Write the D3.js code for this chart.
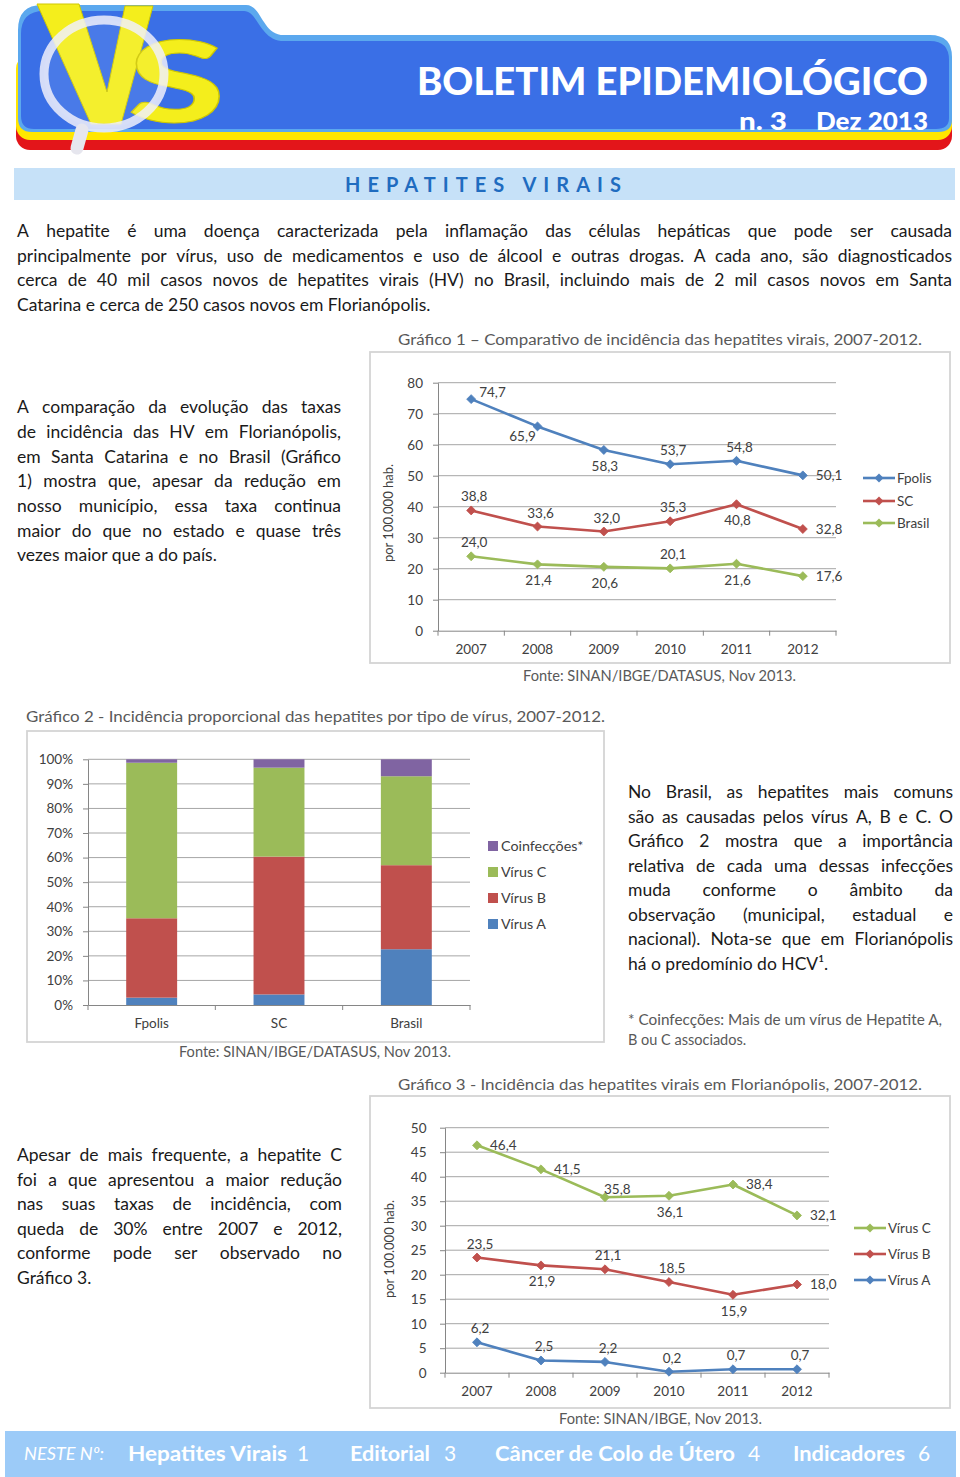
<!DOCTYPE html>
<html><head><meta charset="utf-8">
<script src="https://cdn.jsdelivr.net/npm/d3@7"></script>
<style>html,body{margin:0;padding:0;background:#fff;}svg{display:block;}</style>
</head><body>
<svg id="page" width="960" height="1477"></svg>
<script>
// ---------------- DATA ----------------
const years = ["2007","2008","2009","2010","2011","2012"];
// Gráfico 1
const g1Fpolis = [74.7, 65.9, 58.3, 53.7, 54.8, 50.1];
const g1SC     = [38.8, 33.6, 32.0, 35.3, 40.8, 32.8];
const g1Brasil = [24.0, 21.4, 20.6, 20.1, 21.6, 17.6];
const g1Ticks  = [0,10,20,30,40,50,60,70,80];
const g1Names  = ["Fpolis","SC","Brasil"];
// Gráfico 2 (%)
const g2Categories = ["Fpolis","SC","Brasil"];
const g2VirusA = [3.0, 4.3, 22.7];
const g2VirusB = [32.3, 56.1, 34.2];
const g2VirusC = [63.3, 36.2, 36.2];
const g2Coinf  = [1.4, 3.4, 6.9];
const g2Keys   = ["Vírus A","Vírus B","Vírus C","Coinfecções*"];
const g2Ticks  = [0,10,20,30,40,50,60,70,80,90,100];
// Gráfico 3
const g3VirusC = [46.4, 41.5, 35.8, 36.1, 38.4, 32.1];
const g3VirusB = [23.5, 21.9, 21.1, 18.5, 15.9, 18.0];
const g3VirusA = [6.2, 2.5, 2.2, 0.2, 0.7, 0.7];
const g3Ticks  = [0,5,10,15,20,25,30,35,40,45,50];
const g3Names  = ["Vírus C","Vírus B","Vírus A"];

// label placement codes (style)
const g1FpolisLab = ["ar","bl","b","a","a","r"];
const g1SCLab     = ["a","a","a","a","b","r"];
const g1BrasilLab = ["a","b","b","a","b","r"];
const g3CLab = ["r","r","au","b","r","r"];
const g3BLab = ["a","b","a","a","b","r"];
const g3ALab = ["a","a","a","a","a","a"];

// ---------------- STYLE ----------------
const FONT = "Lato, 'Open Sans', 'DejaVu Sans', sans-serif";
const BLUE = "#4f81bd", RED = "#c0504d", GREEN = "#9bbb59", PURPLE = "#8064a2";
const AXIS = "#868686", GRID = "#a6a6a6", TXT = "#404040";

const svg = d3.select("#page").attr("font-family", FONT);

function measure(str, size, weight, style) {
  const t = svg.append("text").attr("font-size", size)
    .attr("font-weight", weight || "normal").attr("font-style", style || "normal").text(str);
  const w = t.node().getComputedTextLength(); t.remove(); return w;
}
function fitText(sel, w) { return sel.attr("textLength", w).attr("lengthAdjust", "spacingAndGlyphs"); }

function paragraph(lines, x0, x1, baselines, size, color, lastJustify) {
  const W = x1 - x0;
  const natural = lines.slice(0, lastJustify ? lines.length : -1).map(l => measure(l, size));
  const maxN = d3.max(natural) || 0;
  const fs = maxN > W * 0.985 ? size * W * 0.985 / maxN : size;
  const g = svg.append("g").attr("font-size", fs).attr("fill", color);
  lines.forEach((line, i) => {
    const t = g.append("text").attr("y", baselines[i]);
    const last = i === lines.length - 1 && !lastJustify;
    if (last) { t.attr("x", x0).text(line); return; }
    const words = line.split(" ");
    const ws = words.map(w => measure(w, fs));
    const gap = (W - d3.sum(ws)) / (words.length - 1);
    let cx = x0;
    words.forEach((w, k) => { t.append("tspan").attr("x", cx).text(w); cx += ws[k] + gap; });
  });
}

// ---------------- HEADER ----------------
const hdr = svg.append("g");
hdr.append("rect").attr("x", 16).attr("y", 60).attr("width", 936).attr("height", 90).attr("rx", 14).attr("fill", "#e3151a");
hdr.append("rect").attr("x", 16).attr("y", 55).attr("width", 936).attr("height", 85).attr("rx", 14).attr("fill", "#ffe600");
hdr.append("path").attr("fill", "#5ba8ee")
  .attr("d", "M18,30 Q18,5 42,5 L246,5 C262,5 262,35 284,35 L930,35 Q952,35 952,57 L952,120 Q952,132 938,132 L32,132 Q18,132 18,118 Z");
hdr.append("path").attr("fill", "#3a6fe6")
  .attr("d", "M21,34 Q21,11 44,11 L244,11 C258,11 260,41 284,41 L930,41 Q949,41 949,60 L949,118 Q949,129 936,129 L34,129 Q21,129 21,116 Z");
// logo
hdr.append("polygon").attr("points", "37,4 79,4 107,92 125,6 153,6 121,124 91,124")
  .attr("fill", "#f4ee1c").attr("stroke", "#cfc700").attr("stroke-width", 1);
fitText(hdr.append("text").attr("x", 128).attr("y", 122).attr("font-size", 112).attr("font-weight", 900)
  .attr("fill", "#f4ee1c").attr("stroke", "#cfc700").attr("stroke-width", 1).text("S"), 97);
hdr.append("ellipse").attr("cx", 104).attr("cy", 74).attr("rx", 60).attr("ry", 54)
  .attr("fill", "rgba(255,255,255,0.08)").attr("stroke", "rgba(240,240,250,0.85)").attr("stroke-width", 9);
hdr.append("line").attr("x1", 82).attr("y1", 130).attr("x2", 77).attr("y2", 148)
  .attr("stroke", "#e6e6ee").attr("stroke-width", 13).attr("stroke-linecap", "round");
fitText(hdr.append("text").attr("x", 417).attr("y", 95).attr("font-size", 38).attr("font-weight", 900)
  .attr("fill", "#fff").text("BOLETIM EPIDEMIOLÓGICO"), 511);
fitText(hdr.append("text").attr("x", 739).attr("y", 130).attr("font-size", 25).attr("font-weight", 900)
  .attr("fill", "#fff").text("n. 3"), 48);
fitText(hdr.append("text").attr("x", 816).attr("y", 130).attr("font-size", 25).attr("font-weight", 900)
  .attr("fill", "#fff").text("Dez 2013"), 112);

// section title
svg.append("rect").attr("x", 14).attr("y", 168).attr("width", 941).attr("height", 32).attr("fill", "#c6e1f8");
svg.append("text").attr("x", 345).attr("y", 192).attr("font-size", 20).attr("font-weight", 700)
  .attr("fill", "#1f6cc0").attr("textLength", 276).attr("lengthAdjust", "spacing").text("HEPATITES  VIRAIS");

// ---------------- TEXT ----------------
const PCOL = "#1a1a1a";
paragraph([
  "A hepatite é uma doença caracterizada pela inflamação das células hepáticas que pode ser causada",
  "principalmente por vírus, uso de medicamentos e uso de álcool e outras drogas. A cada ano, são diagnosticados",
  "cerca de 40 mil casos novos de hepatites virais (HV) no Brasil, incluindo mais de 2 mil casos novos em Santa",
  "Catarina e cerca de 250 casos novos em Florianópolis."
], 17, 952, [237, 262, 286, 311], 17.5, PCOL);

paragraph([
  "A comparação da evolução das taxas",
  "de incidência das HV em Florianópolis,",
  "em Santa Catarina e no Brasil (Gráfico",
  "1) mostra que, apesar da redução em",
  "nosso município, essa taxa continua",
  "maior do que no estado e quase três",
  "vezes maior que a do país."
], 17, 341, [413, 438, 463, 487, 512, 537, 561], 17.5, PCOL);

paragraph([
  "No Brasil, as hepatites mais comuns",
  "são as causadas pelos vírus A, B e C. O",
  "Gráfico 2 mostra que a importância",
  "relativa de cada uma dessas infecções",
  "muda conforme o âmbito da",
  "observação (municipal, estadual e",
  "nacional). Nota-se que em Florianópolis",
  "há o predomínio do HCV¹."
], 628, 953, [798, 823, 847, 872, 896, 921, 945, 970], 17.5, PCOL);

paragraph([
  "Apesar de mais frequente, a hepatite C",
  "foi a que apresentou a maior redução",
  "nas suas taxas de incidência, com",
  "queda de 30% entre 2007 e 2012,",
  "conforme pode ser observado no",
  "Gráfico 3."
], 17, 342, [1161, 1186, 1210, 1235, 1259, 1284], 17.5, PCOL);

const CAP = "#595959";
fitText(svg.append("text").attr("x", 398).attr("y", 345).attr("font-size", 15.5).attr("fill", CAP)
  .text("Gráfico 1 – Comparativo de incidência das hepatites virais, 2007-2012."), 524);
fitText(svg.append("text").attr("x", 26).attr("y", 722).attr("font-size", 15.5).attr("fill", CAP)
  .text("Gráfico 2 - Incidência proporcional das hepatites por tipo de vírus, 2007-2012."), 579);
fitText(svg.append("text").attr("x", 398).attr("y", 1090).attr("font-size", 15.5).attr("fill", CAP)
  .text("Gráfico 3 - Incidência das hepatites virais em Florianópolis, 2007-2012."), 524);
fitText(svg.append("text").attr("x", 523).attr("y", 681).attr("font-size", 14.5).attr("fill", CAP)
  .text("Fonte: SINAN/IBGE/DATASUS, Nov 2013."), 273);
fitText(svg.append("text").attr("x", 179).attr("y", 1057).attr("font-size", 14.5).attr("fill", CAP)
  .text("Fonte: SINAN/IBGE/DATASUS, Nov 2013."), 272);
fitText(svg.append("text").attr("x", 559).attr("y", 1424).attr("font-size", 14.5).attr("fill", CAP)
  .text("Fonte: SINAN/IBGE, Nov 2013."), 203);
fitText(svg.append("text").attr("x", 628).attr("y", 1025).attr("font-size", 14.5).attr("fill", CAP)
  .text("* Coinfecções: Mais de um vírus de Hepatite A,"), 314);
svg.append("text").attr("x", 628).attr("y", 1045).attr("font-size", 14.5).attr("fill", CAP)
  .text("B ou C associados.");

// ---------------- LINE CHART ----------------
const LABEL_OFF = {
  r:  {anchor: "start",  dx: 13, dy: 4.5},
  ar: {anchor: "start",  dx: 8,  dy: -2},
  au: {anchor: "start",  dx: -1, dy: -3},
  a:  {anchor: "middle", dx: 3,  dy: -9},
  b:  {anchor: "middle", dx: 1,  dy: 21},
  bl: {anchor: "middle", dx: -15, dy: 15}
};

function lineChart(o) {
  const g = svg.append("g");
  g.append("rect").attr("x", o.box[0]).attr("y", o.box[1]).attr("width", o.box[2]).attr("height", o.box[3])
    .attr("fill", "#fff").attr("stroke", "#d4d4d4").attr("stroke-width", 1.8);
  const x = d3.scaleBand().domain(years).range([o.x0, o.x1]);
  const y = d3.scaleLinear().domain([o.ticks[0], o.ticks[o.ticks.length - 1]]).range([o.y0, o.y1]);
  const cx = d => x(d) + x.bandwidth() / 2;

  g.selectAll(".grid").data(o.ticks.slice(1)).join("line")
    .attr("x1", o.x0).attr("x2", o.x1).attr("y1", d => y(d)).attr("y2", d => y(d))
    .attr("stroke", GRID).attr("stroke-width", 1);

  const ya = g.append("g").attr("transform", `translate(${o.x0},0)`)
    .call(d3.axisLeft(y).tickValues(o.ticks).tickSize(5).tickSizeOuter(0).tickPadding(o.yPad).tickFormat(d => d));
  const xa = g.append("g").attr("transform", `translate(0,${o.y0})`)
    .call(d3.axisBottom(x).tickSize(0).tickSizeOuter(0).tickPadding(o.xPad));
  [ya, xa].forEach(a => {
    a.select(".domain").attr("stroke", AXIS);
    a.selectAll(".tick line").attr("stroke", AXIS);
    a.selectAll("text").attr("font-family", FONT).attr("font-size", 13.5).attr("fill", TXT);
  });
  g.selectAll(".xt").data(years.concat(["end"])).join("line")
    .attr("x1", d => d === "end" ? o.x1 : x(d)).attr("x2", d => d === "end" ? o.x1 : x(d))
    .attr("y1", o.y0).attr("y2", o.y0 + 5).attr("stroke", AXIS);

  // y title
  g.append("text").attr("transform", `translate(${o.titleX},${o.titleY}) rotate(-90)`)
    .attr("text-anchor", "middle").attr("font-size", 13).attr("fill", TXT).text(o.yTitle);

  const line = d3.line().x((d, i) => cx(years[i])).y(d => y(d));
  const sym = d3.symbol(d3.symbolSquare, 40);
  o.series.forEach(s => {
    g.append("path").attr("d", line(s.values)).attr("fill", "none")
      .attr("stroke", s.color).attr("stroke-width", 2.6).attr("stroke-linejoin", "round");
    g.selectAll(null).data(s.values).join("path").attr("d", sym)
      .attr("transform", (d, i) => `translate(${cx(years[i])},${y(d)}) rotate(45)`)
      .attr("fill", s.color).attr("stroke", s.color).attr("stroke-width", 0.8);
    g.selectAll(null).data(s.values).join("text")
      .attr("x", (d, i) => cx(years[i]) + LABEL_OFF[s.labels[i]].dx)
      .attr("y", (d, i) => y(d) + LABEL_OFF[s.labels[i]].dy)
      .attr("text-anchor", (d, i) => LABEL_OFF[s.labels[i]].anchor)
      .attr("font-size", 13.5).attr("fill", TXT)
      .text(d => d.toFixed(1).replace(".", ","));
  });
  // legend
  o.legend.forEach((s, i) => {
    const ly = o.legY[i];
    g.append("line").attr("x1", o.legX0).attr("x2", o.legX1).attr("y1", ly).attr("y2", ly)
      .attr("stroke", s.color).attr("stroke-width", 2.6);
    g.append("path").attr("d", sym).attr("transform", `translate(${(o.legX0 + o.legX1) / 2},${ly}) rotate(45)`)
      .attr("fill", s.color);
    g.append("text").attr("x", o.legX1 + 2).attr("y", ly + 4.5).attr("font-size", 13.5).attr("fill", TXT).text(s.name);
  });
}

const g1Series = [
  {name: g1Names[0], values: g1Fpolis, color: BLUE, labels: g1FpolisLab},
  {name: g1Names[1], values: g1SC, color: RED, labels: g1SCLab},
  {name: g1Names[2], values: g1Brasil, color: GREEN, labels: g1BrasilLab}
];
lineChart({
  box: [370, 352, 580, 311], x0: 438, x1: 836, y0: 630.7, y1: 382.7, ticks: g1Ticks,
  yPad: 10, xPad: 13.5, titleX: 393, titleY: 513, yTitle: "por 100.000 hab.",
  series: g1Series, legend: g1Series, legX0: 863, legX1: 895, legY: [478, 501, 523]
});

const g3Series = [
  {name: g3Names[0], values: g3VirusC, color: GREEN, labels: g3CLab},
  {name: g3Names[1], values: g3VirusB, color: RED, labels: g3BLab},
  {name: g3Names[2], values: g3VirusA, color: BLUE, labels: g3ALab}
];
lineChart({
  box: [370, 1096, 580, 312], x0: 445, x1: 829, y0: 1372.7, y1: 1127.7, ticks: g3Ticks,
  yPad: 13.5, xPad: 14, titleX: 394, titleY: 1249, yTitle: "por  100.000 hab.",
  series: g3Series, legend: g3Series, legX0: 854, legX1: 886, legY: [1228, 1254, 1280]
});

// ---------------- STACKED BAR CHART ----------------
(function () {
  const g = svg.append("g");
  g.append("rect").attr("x", 27).attr("y", 731).attr("width", 577).attr("height", 311)
    .attr("fill", "#fff").attr("stroke", "#d4d4d4").attr("stroke-width", 1.8);
  const table = g2Categories.map((c, i) => ({
    cat: c, "Vírus A": g2VirusA[i], "Vírus B": g2VirusB[i], "Vírus C": g2VirusC[i], "Coinfecções*": g2Coinf[i]
  }));
  const colors = {"Vírus A": BLUE, "Vírus B": RED, "Vírus C": GREEN, "Coinfecções*": PURPLE};
  const stacked = d3.stack().keys(g2Keys)(table);
  const x = d3.scaleBand().domain(g2Categories).range([88, 470]).paddingInner(0.6).paddingOuter(0.3);
  const y = d3.scaleLinear().domain([0, 100]).range([1005, 759.3]);
  g.selectAll(".grid").data(g2Ticks.slice(1)).join("line")
    .attr("x1", 88).attr("x2", 470).attr("y1", d => y(d)).attr("y2", d => y(d)).attr("stroke", GRID);
  g.selectAll(".layer").data(stacked).join("g").attr("fill", d => colors[d.key])
    .selectAll("rect").data(d => d).join("rect")
    .attr("x", d => x(d.data.cat)).attr("width", x.bandwidth())
    .attr("y", d => y(d[1])).attr("height", d => y(d[0]) - y(d[1]));
  const ya = g.append("g").attr("transform", "translate(88,0)")
    .call(d3.axisLeft(y).tickValues(g2Ticks).tickSize(5).tickSizeOuter(0).tickPadding(10).tickFormat(d => d + "%"));
  const xa = g.append("g").attr("transform", "translate(0,1005)")
    .call(d3.axisBottom(x).tickSize(0).tickSizeOuter(0).tickPadding(13.5));
  [ya, xa].forEach(a => {
    a.select(".domain").attr("stroke", AXIS);
    a.selectAll(".tick line").attr("stroke", AXIS);
    a.selectAll("text").attr("font-family", FONT).attr("font-size", 13.5).attr("fill", TXT);
  });
  const bounds = [88].concat(g2Categories.map((c, i) => 88 + (470 - 88) * (i + 1) / g2Categories.length));
  g.selectAll(".xt").data(bounds).join("line")
    .attr("x1", d => d).attr("x2", d => d).attr("y1", 1005).attr("y2", 1010).attr("stroke", AXIS);
  const legOrder = g2Keys.slice().reverse();
  const legY = [846, 872, 898, 924];
  legOrder.forEach((k, i) => {
    g.append("rect").attr("x", 488).attr("y", legY[i] - 5).attr("width", 10).attr("height", 10).attr("fill", colors[k]);
    g.append("text").attr("x", 501).attr("y", legY[i] + 4.5).attr("font-size", 14.3).attr("fill", TXT).text(k);
  });
})();

// ---------------- FOOTER ----------------
const ft = svg.append("g");
ft.append("rect").attr("x", 5).attr("y", 1431).attr("width", 951).attr("height", 46).attr("fill", "#9ccbf8");
fitText(ft.append("text").attr("x", 24).attr("y", 1460).attr("font-size", 18).attr("font-style", "italic")
  .attr("fill", "#fff").text("NESTE Nº:"), 80);
const items = [
  {t: "Hepatites Virais", n: "1", x: 128, w: 159, nx: 297},
  {t: "Editorial", n: "3", x: 350, w: 80, nx: 444},
  {t: "Câncer de Colo de Útero", n: "4", x: 495, w: 240, nx: 748},
  {t: "Indicadores", n: "6", x: 793, w: 112, nx: 918}
];
items.forEach(it => {
  fitText(ft.append("text").attr("x", it.x).attr("y", 1461).attr("font-size", 21).attr("font-weight", 700)
    .attr("fill", "#fff").text(it.t), it.w);
  ft.append("text").attr("x", it.nx).attr("y", 1461).attr("font-size", 21).attr("fill", "#fff").text(it.n);
});
</script>
</body></html>
